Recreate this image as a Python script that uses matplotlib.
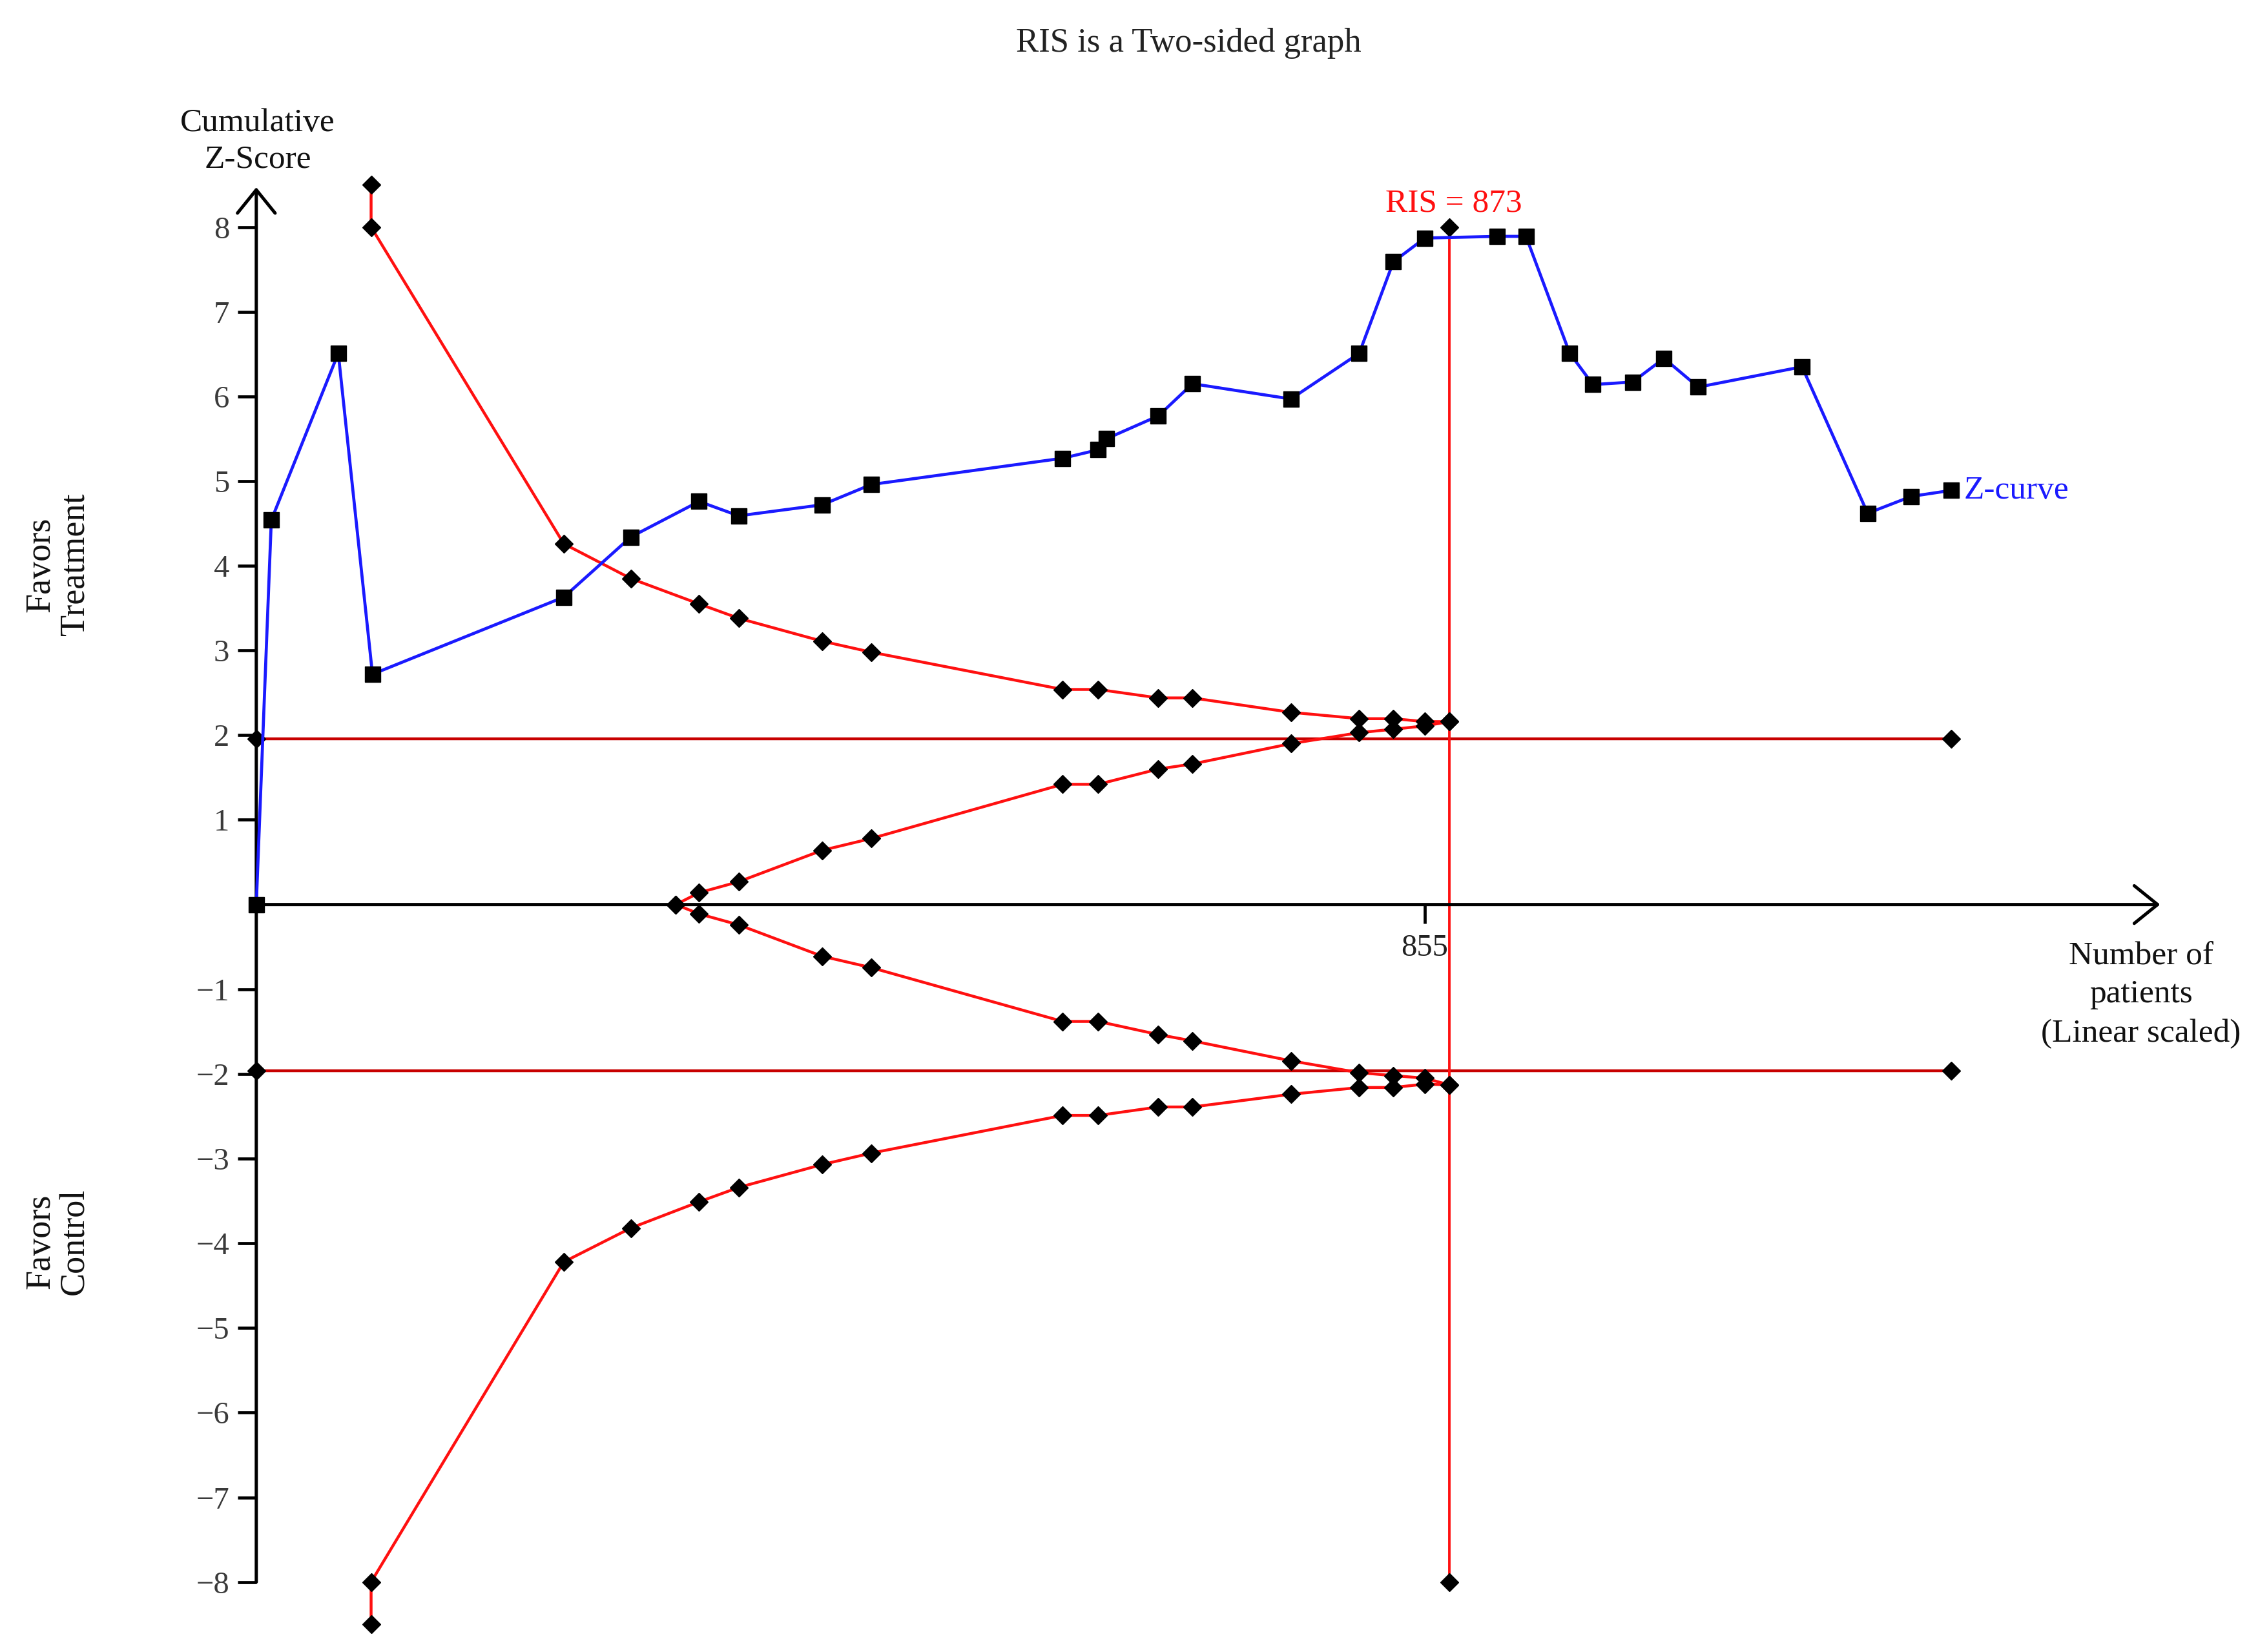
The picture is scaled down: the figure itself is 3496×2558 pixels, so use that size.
import matplotlib
matplotlib.use("Agg")
import matplotlib.pyplot as plt

plt.rcParams['font.family'] = ['Liberation Serif', 'DejaVu Serif']

# ---------------- data ----------------
z_patients = [0, 11, 60, 85, 225, 274, 324, 353, 414, 450, 590, 616, 622, 660, 685,
              757, 807, 832, 855, 908, 929, 961, 978, 1007, 1030, 1055, 1131, 1179, 1211, 1240]
z_scores = [0, 4.54, 6.51, 2.72, 3.63, 4.34, 4.76, 4.59, 4.72, 4.96, 5.27, 5.37, 5.50, 5.77, 6.15,
            5.97, 6.51, 7.59, 7.87, 7.89, 7.89, 6.51, 6.14, 6.17, 6.45, 6.11, 6.35, 4.62, 4.82, 4.89]

outer_x = [84, 84, 225, 274, 324, 353, 414, 450, 590, 616, 660, 685, 757, 807, 832, 855, 873]
outer_upper = [8.5, 8.0, 4.26, 3.85, 3.55, 3.38, 3.11, 2.98, 2.54, 2.54, 2.44, 2.44, 2.27, 2.195, 2.195, 2.16, 2.16]
outer_lower = [-8.5, -8.0, -4.22, -3.82, -3.51, -3.34, -3.07, -2.935, -2.49, -2.49, -2.39, -2.39, -2.24, -2.16, -2.16, -2.12, -2.13]

inner_x = [307, 324, 353, 414, 450, 590, 616, 660, 685, 757, 807, 832, 855, 873]
inner_upper = [0, 0.14, 0.27, 0.64, 0.78, 1.42, 1.42, 1.60, 1.66, 1.90, 2.03, 2.07, 2.11, 2.16]
inner_lower = [0, -0.11, -0.24, -0.61, -0.745, -1.38, -1.38, -1.535, -1.61, -1.845, -1.985, -2.02, -2.05, -2.13]

conv_x = [0, 1240]
conv_upper = [1.96, 1.96]
conv_lower = [-1.96, -1.96]

ris = 873
ris_y = [-8, 8]

y_ticks = [-8, -7, -6, -5, -4, -3, -2, -1, 1, 2, 3, 4, 5, 6, 7, 8]
y_tick_labels = ['\u22128', '\u22127', '\u22126', '\u22125', '\u22124', '\u22123', '\u22122', '\u22121',
                 '1', '2', '3', '4', '5', '6', '7', '8']
x_ticks = [855]
x_tick_labels = ['855']

# ---------------- figure ----------------
fig = plt.figure(figsize=(34.96, 25.58), dpi=100)
ax = fig.add_axes([0.1135, 0.00645, 0.8474, 0.892])
ax.set_xlim(0, 1400)
ax.set_ylim(-8.7, 8.7)
for s in ax.spines.values():
    s.set_visible(False)
ax.spines['bottom'].set_position(('data', 0))

RED = '#FF1010'
DRED = '#C80000'
BLUE = '#1A1AFF'
mk = dict(marker='D', markersize=14, markerfacecolor='black', markeredgecolor='black', clip_on=False)

# conventional boundaries
ax.plot(conv_x, conv_upper, color=DRED, lw=3.2, zorder=2, **mk)
ax.plot(conv_x, conv_lower, color=DRED, lw=3.2, zorder=2, **mk)
# RIS line
ax.plot([ris, ris], ris_y, color=RED, lw=2.8, zorder=2, **mk)
# monitoring boundaries
ax.plot(outer_x, outer_upper, color=RED, lw=3.2, zorder=3, **mk)
ax.plot(outer_x, outer_lower, color=RED, lw=3.2, zorder=3, **mk)
ax.plot(inner_x, inner_upper, color=RED, lw=3.2, zorder=3, **mk)
ax.plot(inner_x, inner_lower, color=RED, lw=3.2, zorder=3, **mk)

# axes with arrows
arrow = dict(arrowstyle='->,head_length=2.6,head_width=2.1', lw=3.6, color='black',
             shrinkA=0, shrinkB=0, mutation_scale=10)
ax.annotate('', xy=(0, 8.47), xytext=(0, -8), xycoords='data', arrowprops=arrow,
            annotation_clip=False, zorder=4)
ax.annotate('', xy=(1393, 0), xytext=(0, 0), xycoords='data', arrowprops=arrow,
            annotation_clip=False, zorder=4)

# Z-curve
ax.plot(z_patients, z_scores, color=BLUE, lw=3.4, marker='s', markersize=17,
        markerfacecolor='black', markeredgecolor='black', zorder=5, clip_on=False)

# ticks
ax.set_yticks(y_ticks)
ax.set_yticklabels(y_tick_labels)
ax.set_xticks(x_ticks)
ax.set_xticklabels(x_tick_labels)
ax.tick_params(axis='y', direction='out', length=21, width=3.4, pad=9,
               labelsize=35, labelcolor='#3a3a3a', color='black')
ax.tick_params(axis='x', direction='out', length=21, width=3.4, pad=12,
               labelsize=35, labelcolor='#222222', color='black')

# annotations
ax.text(876, 8.18, 'RIS = {}'.format(ris), color=RED, fontsize=37, ha='center', va='baseline')
ax.annotate('Z-curve', xy=(z_patients[-1], z_scores[-1]), xytext=(14, 0), textcoords='offset points',
            color=BLUE, fontsize=37, ha='left', va='center')

fig.text(0.5263, 0.9689, 'RIS is a Two-sided graph', fontsize=38, ha='center', va='baseline',
         color='#222222')
fig.text(0.1141, 0.9206, 'Cumulative', fontsize=37, ha='center', va='baseline', color='#111111')
fig.text(0.1141, 0.8987, 'Z-Score', fontsize=37, ha='center', va='baseline', color='#111111')

fig.text(0.9482, 0.4161, 'Number of', fontsize=37, ha='center', va='baseline', color='#111111')
fig.text(0.9482, 0.3931, 'patients', fontsize=37, ha='center', va='baseline', color='#111111')
fig.text(0.9482, 0.3694, '(Linear scaled)', fontsize=37, ha='center', va='baseline', color='#111111')

fig.text(0.0257, 0.6583, 'Favors\nTreatment', fontsize=39, rotation=90, ha='center', va='center',
         multialignment='center', linespacing=1.05, color='#111111')
fig.text(0.0257, 0.2486, 'Favors\nControl', fontsize=39, rotation=90, ha='center', va='center',
         multialignment='center', linespacing=1.05, color='#111111')

fig.savefig('out.png', dpi=100, facecolor='white')
